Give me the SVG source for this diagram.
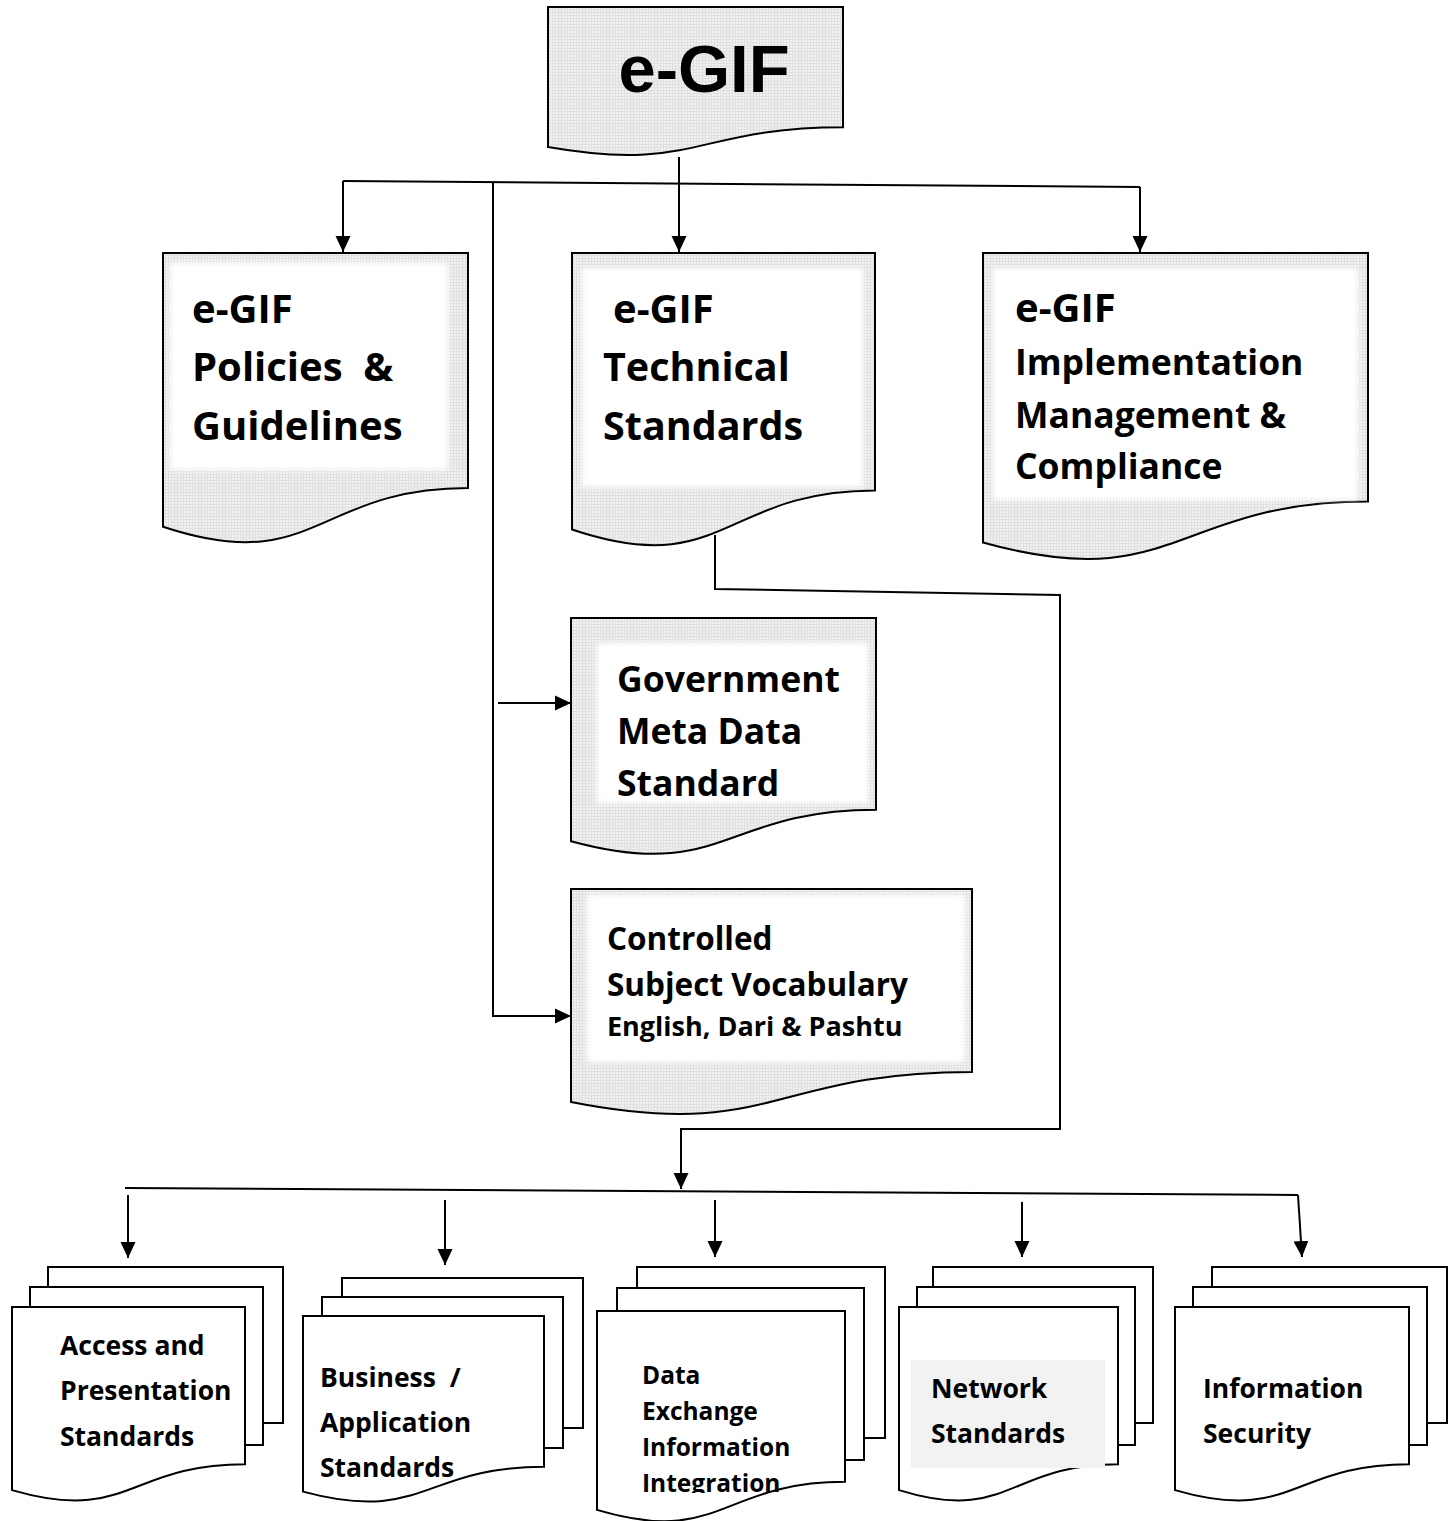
<svg xmlns="http://www.w3.org/2000/svg" width="1455" height="1521" viewBox="0 0 1455 1521">
  <style>
    .doc { stroke: #000; stroke-width: 2; stroke-linejoin: miter; }
    .shade { fill: url(#grain); }
    .plain { fill: #fff; }
    .glow { fill: #fff; filter: url(#soft); }
    .wire { fill: none; stroke: #000; stroke-width: 2; }
    .arrow { marker-end: url(#head); }
    .lbl { font-family: "Open Sans", "Liberation Sans", sans-serif; font-weight: 700; fill: #000; white-space: pre; }
    .title { font-family: "Liberation Sans", Arial, sans-serif; font-weight: 700; font-size: 67px; fill: #000; }
  </style>
  <defs>
    <pattern id="grain" width="3" height="3" patternUnits="userSpaceOnUse">
      <rect width="3" height="3" fill="#f1f1f1"/>
      <rect width="3" height="1" fill="#e0e0e0"/>
      <rect width="1" height="3" fill="#e0e0e0"/>
    </pattern>
    <filter id="soft" x="-10%" y="-10%" width="120%" height="120%">
      <feGaussianBlur stdDeviation="2.5"/>
    </filter>
    <marker id="head" markerUnits="userSpaceOnUse" markerWidth="16" markerHeight="16" refX="16" refY="8" orient="auto">
      <path d="M0,0.5 L16,8 L0,15.5 Z" fill="#000"/>
    </marker>
    <clipPath id="dataClip">
      <rect x="597" y="1311" width="248" height="182"/>
    </clipPath>
  </defs>

  <rect width="1455" height="1521" fill="#fff"/>

  <!-- connectors -->
  <g id="connectors">
    <path class="wire arrow" d="M679,157 V252"/>
    <path class="wire" d="M343,181 L1140,187"/>
    <path class="wire arrow" d="M343,181 V252"/>
    <path class="wire arrow" d="M1140,187 V252"/>
    <path class="wire arrow" d="M493,182 V1016 H571"/>
    <path class="wire arrow" d="M498,703 H571"/>
    <path class="wire arrow" d="M715,535 V589 L1060,595 V1129 H681 V1189"/>
    <path class="wire" d="M125,1188 L1298,1195"/>
    <path class="wire arrow" d="M128,1195 V1258"/>
    <path class="wire arrow" d="M445,1200 V1265"/>
    <path class="wire arrow" d="M715,1200 V1257"/>
    <path class="wire arrow" d="M1022,1202 V1257"/>
    <path class="wire arrow" d="M1298,1195 L1302,1257"/>
  </g>

  <!-- root document -->
  <g id="egif">
    <path class="doc shade" d="M548,7 H843 V127.3 C695.5,127.3 695.5,173 548,147.1 Z"/>
    <text class="title" x="704" y="92" text-anchor="middle">e-GIF</text>
  </g>

  <g id="policies">
    <path class="doc shade" d="M163,253 H468 V488 C315.5,488 315.5,577.3 163,526.7 Z"/>
    <rect class="glow" x="170" y="263" width="278" height="207"/>
    <text class="lbl" font-size="40" x="192" y="323">e-GIF</text>
    <text class="lbl" font-size="40" x="192" y="381">Policies  &amp;</text>
    <text class="lbl" font-size="40" x="192" y="440">Guidelines</text>
  </g>

  <g id="technical">
    <path class="doc shade" d="M572,253 H875 V490.4 C723.5,490.4 723.5,580.7 572,529.5 Z"/>
    <rect class="glow" x="582" y="268" width="281" height="219"/>
    <text class="lbl" font-size="40" x="613" y="323">e-GIF</text>
    <text class="lbl" font-size="39.5" x="603" y="381">Technical</text>
    <text class="lbl" font-size="39.5" x="603" y="440">Standards</text>
  </g>

  <g id="implementation">
    <path class="doc shade" d="M983,253 H1368 V501.6 C1175.5,501.6 1175.5,596.2 983,542.5 Z"/>
    <rect class="glow" x="993" y="268" width="365" height="232"/>
    <text class="lbl" font-size="40" x="1015" y="322">e-GIF</text>
    <text class="lbl" font-size="35.5" x="1015" y="375">Implementation</text>
    <text class="lbl" font-size="35.5" x="1015" y="428">Management &amp;</text>
    <text class="lbl" font-size="35.5" x="1015" y="479">Compliance</text>
  </g>

  <g id="metadata">
    <path class="doc shade" d="M571,618 H876 V809.7 C723.5,809.7 723.5,882.6 571,841.2 Z"/>
    <rect class="glow" x="597" y="643" width="271" height="160"/>
    <text class="lbl" font-size="35.5" x="617" y="692">Government</text>
    <text class="lbl" font-size="35.5" x="617" y="744">Meta Data</text>
    <text class="lbl" font-size="35.5" x="617" y="796">Standard</text>
  </g>

  <g id="vocabulary">
    <path class="doc shade" d="M571,889 H972 V1071.9 C771.5,1071.9 771.5,1141.4 571,1102 Z"/>
    <rect class="glow" x="587" y="895" width="378" height="167"/>
    <text class="lbl" font-size="31.5" x="607" y="950">Controlled</text>
    <text class="lbl" font-size="31.5" x="607" y="996">Subject Vocabulary</text>
    <text class="lbl" font-size="27" x="607" y="1036">English, Dari &amp; Pashtu</text>
  </g>

  <!-- standards families (stacked documents) -->
  <g id="access">
    <rect class="doc plain" x="48" y="1267" width="235" height="156"/>
    <rect class="doc plain" x="30" y="1287" width="233" height="158"/>
    <path class="doc plain" d="M12,1307 H245 V1464.2 C128.5,1464.2 128.5,1524 12,1490.1 Z"/>
    <text class="lbl" font-size="26.5" x="60" y="1355">Access and</text>
    <text class="lbl" font-size="26.5" x="60" y="1400">Presentation</text>
    <text class="lbl" font-size="26.5" x="60" y="1446">Standards</text>
  </g>

  <g id="business">
    <rect class="doc plain" x="342" y="1278" width="241" height="150"/>
    <rect class="doc plain" x="322" y="1297" width="241" height="151"/>
    <path class="doc plain" d="M303,1316 H544 V1466.8 C423.5,1466.8 423.5,1524.1 303,1491.6 Z"/>
    <text class="lbl" font-size="26.5" x="320" y="1387">Business  /</text>
    <text class="lbl" font-size="26.5" x="320" y="1432">Application</text>
    <text class="lbl" font-size="26.5" x="320" y="1477">Standards</text>
  </g>

  <g id="exchange">
    <rect class="doc plain" x="637" y="1267" width="248" height="171"/>
    <rect class="doc plain" x="617" y="1288" width="247" height="172"/>
    <path class="doc plain" d="M597,1311 H845 V1481.8 C721,1481.8 721,1546.8 597,1509.9 Z"/>
    <g clip-path="url(#dataClip)">
      <text class="lbl" font-size="24.5" x="642" y="1384">Data</text>
      <text class="lbl" font-size="24.5" x="642" y="1420">Exchange</text>
      <text class="lbl" font-size="24.5" x="642" y="1456">Information</text>
      <text class="lbl" font-size="24.5" x="642" y="1492">Integration</text>
    </g>
  </g>

  <g id="network">
    <rect class="doc plain" x="933" y="1267" width="220" height="156"/>
    <rect class="doc plain" x="917" y="1287" width="218" height="158"/>
    <path class="doc plain" d="M899,1307 H1118 V1464.2 C1008.5,1464.2 1008.5,1524 899,1490.1 Z"/>
    <rect x="911" y="1360" width="194" height="108" fill="#f2f2f2"/>
    <text class="lbl" font-size="26.5" x="931" y="1398">Network</text>
    <text class="lbl" font-size="26.5" x="931" y="1443">Standards</text>
  </g>

  <g id="security">
    <rect class="doc plain" x="1212" y="1267" width="235" height="156"/>
    <rect class="doc plain" x="1193" y="1287" width="234" height="158"/>
    <path class="doc plain" d="M1175,1307 H1409 V1464.2 C1292,1464.2 1292,1524 1175,1490.1 Z"/>
    <text class="lbl" font-size="26.5" x="1203" y="1398">Information</text>
    <text class="lbl" font-size="26.5" x="1203" y="1443">Security</text>
  </g>
</svg>
